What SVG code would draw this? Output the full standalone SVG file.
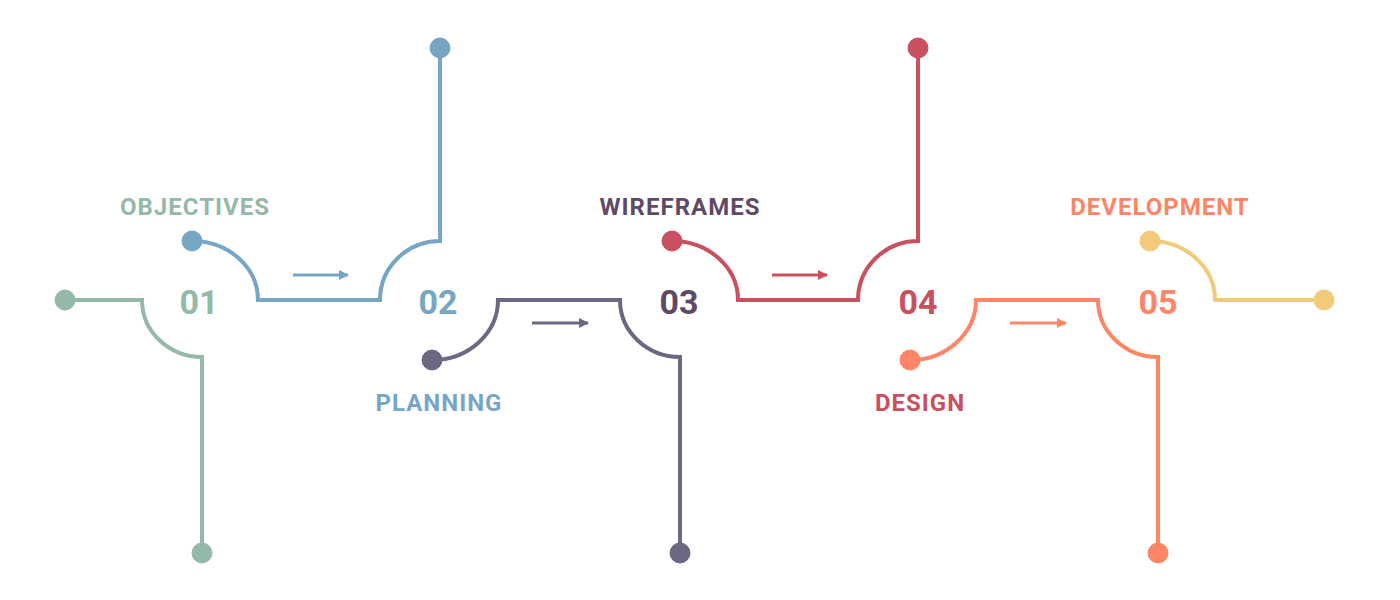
<svg xmlns="http://www.w3.org/2000/svg" width="1400" height="600" viewBox="0 0 1400 600">
<style>
.ln{fill:none;stroke-width:4;stroke-linejoin:miter}
.ar{fill:none;stroke-width:3}
.num{font-family:Roboto,"Liberation Sans",sans-serif;font-weight:700;font-size:34px;text-anchor:middle}
.lbl{font-family:Roboto,"Liberation Sans",sans-serif;font-weight:700;font-size:24px;letter-spacing:1px;text-anchor:middle}
.g{stroke:#95b9a7;fill:#95b9a7}
.b{stroke:#77a6c4;fill:#77a6c4}
.s{stroke:#6b6882;fill:#6b6882}
.r{stroke:#c9505f;fill:#c9505f}
.o{stroke:#fe8566;fill:#fe8566}
.y{stroke:#f2cb7a;fill:#f2cb7a}
</style>
<defs>
<marker id="hb" viewBox="0 0 10 10" refX="9" refY="5" markerWidth="10" markerHeight="10" markerUnits="userSpaceOnUse" orient="auto"><path d="M0,0L10,5L0,10z" fill="#77a6c4"/></marker>
<marker id="hs" viewBox="0 0 10 10" refX="9" refY="5" markerWidth="10" markerHeight="10" markerUnits="userSpaceOnUse" orient="auto"><path d="M0,0L10,5L0,10z" fill="#6b6882"/></marker>
<marker id="hr" viewBox="0 0 10 10" refX="9" refY="5" markerWidth="10" markerHeight="10" markerUnits="userSpaceOnUse" orient="auto"><path d="M0,0L10,5L0,10z" fill="#c9505f"/></marker>
<marker id="ho" viewBox="0 0 10 10" refX="9" refY="5" markerWidth="10" markerHeight="10" markerUnits="userSpaceOnUse" orient="auto"><path d="M0,0L10,5L0,10z" fill="#fe8566"/></marker>
</defs>
<rect width="1400" height="600" fill="#ffffff"/>
<g id="connectors">
<path class="ln g" style="fill:none" d="M65,300 H142 A60 57 0 0 0 202,357 V553"/>
<path class="ln b" style="fill:none" d="M192,241 A66 59 0 0 1 258,300 H380 A60 59 0 0 1 440,241 V48"/>
<path class="ln s" style="fill:none" d="M432,360 A66 60 0 0 0 498,300 H620 A60 57 0 0 0 680,357 V553"/>
<path class="ln r" style="fill:none" d="M672,241 A66 59 0 0 1 738,300 H858 A60 59 0 0 1 918,241 V48"/>
<path class="ln o" style="fill:none" d="M910,360 A66 60 0 0 0 976,300 H1098 A60 57 0 0 0 1158,357 V553"/>
<path class="ln y" style="fill:none" d="M1150,241 A65 59 0 0 1 1215,300 H1324"/>
<line class="ar b" x1="293" y1="275" x2="348" y2="275" marker-end="url(#hb)"/>
<line class="ar s" x1="532" y1="323" x2="588" y2="323" marker-end="url(#hs)"/>
<line class="ar r" x1="772" y1="275" x2="827" y2="275" marker-end="url(#hr)"/>
<line class="ar o" x1="1010" y1="323" x2="1066" y2="323" marker-end="url(#ho)"/>
</g>
<g id="step1">
<circle class="g" cx="65" cy="300" r="10"/>
<circle class="g" cx="202" cy="553" r="10"/>
<text class="num" x="199" y="314" fill="#95b9a7" stroke="none">01</text>
<text class="lbl" x="195" y="215" fill="#95b9a7" stroke="none">OBJECTIVES</text>
</g>
<g id="step2">
<circle class="b" cx="192" cy="241" r="10"/>
<circle class="b" cx="440" cy="48" r="10"/>
<text class="num" x="438" y="314" fill="#77a6c4" stroke="none">02</text>
<text class="lbl" x="439" y="411" fill="#77a6c4" stroke="none">PLANNING</text>
</g>
<g id="step3">
<circle class="s" cx="432" cy="360" r="10"/>
<circle class="s" cx="680" cy="553" r="10"/>
<text class="num" x="679" y="314" fill="#5e4a66" stroke="none">03</text>
<text class="lbl" x="680" y="215" fill="#5e4a66" stroke="none">WIREFRAMES</text>
</g>
<g id="step4">
<circle class="r" cx="672" cy="241" r="10"/>
<circle class="r" cx="918" cy="48" r="10"/>
<text class="num" x="918" y="314" fill="#c9505f" stroke="none">04</text>
<text class="lbl" x="920" y="411" fill="#c9505f" stroke="none">DESIGN</text>
</g>
<g id="step5">
<circle class="o" cx="910" cy="360" r="10"/>
<circle class="o" cx="1158" cy="553" r="10"/>
<circle class="y" cx="1150" cy="241" r="10"/>
<circle class="y" cx="1324" cy="300" r="10"/>
<text class="num" x="1158" y="314" fill="#fe8566" stroke="none">05</text>
<text class="lbl" x="1160" y="215" fill="#fe8566" stroke="none">DEVELOPMENT</text>
</g>
</svg>
